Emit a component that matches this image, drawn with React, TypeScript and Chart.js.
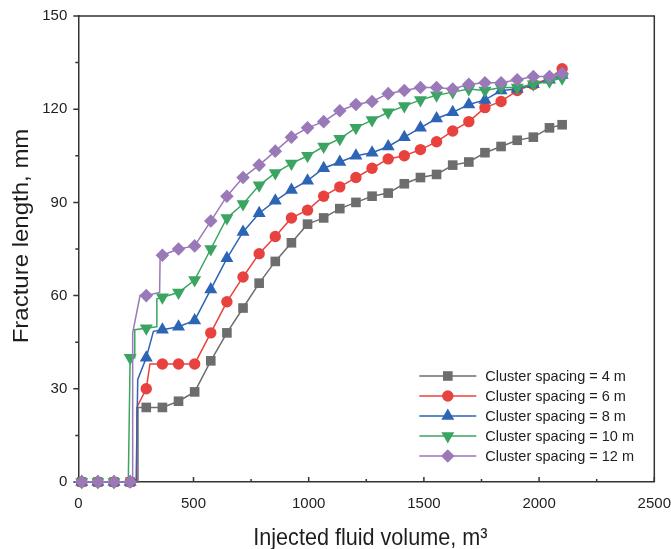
import React, { useEffect, useRef } from 'react';
import { Chart, registerables } from 'chart.js';
import { drawPoint } from 'chart.js/helpers';

Chart.register(...registerables);

// Injected fluid volume (m³) at each plotted marker
const volume = [15, 85, 155, 225, 295, 365, 435, 505, 575, 645, 715, 785, 855, 925, 995, 1065, 1135, 1205, 1275, 1345, 1415, 1485, 1555, 1625, 1695, 1765, 1835, 1905, 1975, 2045, 2100];

// Fracture length (mm) per cluster spacing
const spacing4 = [0, 0, 0, 0, 24, 24, 26, 29, 39, 48, 56, 64, 71, 77, 83, 85, 88, 90, 92, 93, 96, 98, 99, 102, 103, 106, 108, 110, 111, 114, 115];
const spacing6 = [0, 0, 0, 0, 30, 38, 38, 38, 48, 58, 66, 73.5, 79, 85, 87.5, 92, 95, 98, 101, 104, 105, 107, 109.5, 113, 116, 120.5, 122.5, 126, 128, 130, 133];
const spacing8 = [0, 0, 0, 0, 40, 49, 50, 52, 62, 72, 80.5, 86.5, 90.5, 94, 97, 101, 103, 105, 106, 108, 111, 114, 117, 119, 121.5, 123, 126, 126.5, 128, 129.5, 131];
const spacing10 = [0, 0, 0, 40, 49.5, 59.5, 61, 65, 75, 85, 89.5, 95.5, 99.5, 102.5, 105, 108, 110.5, 114, 116.5, 119, 121, 123, 124.5, 125.5, 126.5, 126, 127, 127, 128, 129, 130];
const spacing12 = [0, 0, 0, 0, 60, 73, 75, 76, 84, 92, 98, 102, 106.5, 111, 114, 116, 119.5, 121.5, 122.5, 125, 126, 127, 127, 126.5, 128, 128.5, 128.5, 129.5, 130.5, 130.5, 131.5];

// Line-only vertices (no marker) at the sharp rises: [volume, length]
const rise4 = [[257, 0], [259, 24]];
const rise6 = [[252, 0], [254, 24], [311, 38]];
const rise8 = [[251, 0], [258, 33], [326, 48.5]];
const rise10 = [[217, 0], [243, 40], [245, 49], [339, 50], [341, 59]];
const rise12 = [[234, 0], [236, 48], [268, 60], [353, 61], [355, 72]];

const seriesLabels = ['Cluster spacing = 4 m', 'Cluster spacing = 6 m', 'Cluster spacing = 8 m', 'Cluster spacing = 10 m', 'Cluster spacing = 12 m'];
const seriesValues = [spacing4, spacing6, spacing8, spacing10, spacing12];
const seriesRises = [rise4, rise6, rise8, rise10, rise12];
const seriesColors = ['#6d6d6d', '#e8423f', '#2c65b5', '#3aa560', '#9a79b9'];
const seriesStyles = ['rect', 'circle', 'triangle', 'triangle', 'rectRot'];
const seriesRotations = [0, 0, 0, 180, 0];
const seriesRadius = [6.8, 5.7, 7.5, 7.5, 6.8];

const xTitle = 'Injected fluid volume, m³';
const yTitle = 'Fracture length, mm';

const FONT = "'Liberation Sans', Arial, sans-serif";
const AXIS = '#333333';
const TEXT = '#1e1e1e';

function buildData(values: number[], rises: number[][]) {
  const pts: { x: number; y: number; m: boolean }[] = volume.map((x, i) => ({ x, y: values[i], m: true }));
  rises.forEach(([x, y]) => pts.push({ x, y, m: false }));
  pts.sort((a, b) => a.x - b.x);
  return pts;
}

const framePlugin = {
  id: 'frameTicks',
  beforeDatasetsDraw(chart: any) {
    const { ctx, chartArea } = chart;
    const { left, right, top, bottom } = chartArea;
    const xs = chart.scales.x;
    const ys = chart.scales.y;
    ctx.save();
    ctx.strokeStyle = AXIS;
    ctx.lineWidth = 1.5;
    ctx.beginPath();
    ctx.moveTo(left, top);
    ctx.lineTo(right, top);
    ctx.lineTo(right, bottom);
    ctx.stroke();
    const xv = xs.ticks.map((t: any) => t.value);
    const yv = ys.ticks.map((t: any) => t.value);
    ctx.beginPath();
    xv.forEach((v: number, i: number) => {
      const px = xs.getPixelForValue(v);
      ctx.moveTo(px, bottom);
      ctx.lineTo(px, bottom - 5);
      if (i < xv.length - 1) {
        const pm = xs.getPixelForValue((v + xv[i + 1]) / 2);
        ctx.moveTo(pm, bottom);
        ctx.lineTo(pm, bottom - 3);
      }
    });
    yv.forEach((v: number, i: number) => {
      const py = ys.getPixelForValue(v);
      ctx.moveTo(left, py);
      ctx.lineTo(left - 5, py);
      if (i < yv.length - 1) {
        const pm = ys.getPixelForValue((v + yv[i + 1]) / 2);
        ctx.moveTo(left, pm);
        ctx.lineTo(left - 3, pm);
      }
    });
    ctx.stroke();

    // axis titles (slightly condensed, as in the reference)
    ctx.fillStyle = TEXT;
    ctx.font = `24px ${FONT}`;
    ctx.textAlign = 'center';
    ctx.textBaseline = 'middle';
    ctx.save();
    ctx.translate((left + right) / 2 + 4, 538);
    ctx.scale(0.9, 1);
    ctx.fillText(xTitle, 0, 0);
    ctx.restore();
    ctx.save();
    ctx.translate(22, (top + bottom) / 2 - 13);
    ctx.scale(0.9, 1);
    ctx.rotate(-Math.PI / 2);
    ctx.fillText(yTitle, 0, 0);
    ctx.restore();
    ctx.restore();
  },
  afterDatasetsDraw(chart: any) {
    const { ctx, chartArea } = chart;
    const { right, bottom } = chartArea;
    const x0 = right - 235;
    const x1 = right - 178;
    const xm = (x0 + x1) / 2;
    const xt = right - 169;
    ctx.save();
    ctx.font = `14.5px ${FONT}`;
    ctx.textBaseline = 'middle';
    ctx.textAlign = 'left';
    chart.data.datasets.forEach((ds: any, i: number) => {
      const y = bottom - 106 + i * 20;
      ctx.strokeStyle = ds.borderColor;
      ctx.lineWidth = 1.5;
      ctx.beginPath();
      ctx.moveTo(x0, y);
      ctx.lineTo(x1, y);
      ctx.stroke();
      ctx.fillStyle = ds.borderColor;
      drawPoint(ctx, { pointStyle: ds.pointStyle, rotation: ds.pointRotation, radius: ds.legendRadius, borderWidth: 0 } as any, xm, y);
      ctx.fillStyle = TEXT;
      ctx.fillText(ds.label, xt, y + 0.5);
    });
    ctx.restore();
  },
};

export default function App() {
  const ref = useRef<HTMLCanvasElement>(null);
  useEffect(() => {
    const datasets = seriesLabels.map((label, i) => ({
      label,
      data: buildData(seriesValues[i], seriesRises[i]),
      borderColor: seriesColors[i],
      backgroundColor: seriesColors[i],
      borderWidth: 1.5,
      tension: 0,
      pointStyle: seriesStyles[i],
      pointRotation: seriesRotations[i],
      pointBorderWidth: 0,
      legendRadius: seriesRadius[i],
      pointRadius: (c: any) => (c.raw && c.raw.m ? seriesRadius[i] : 0),
      pointHoverRadius: 0,
      clip: false,
      order: seriesLabels.length - i,
    }));
    const chart = new Chart(ref.current as HTMLCanvasElement, {
      type: 'line',
      data: { datasets } as any,
      plugins: [framePlugin],
      options: {
        animation: false,
        responsive: false,
        devicePixelRatio: 1,
        events: [],
        layout: { padding: { left: 0, right: 16.7, top: 16, bottom: 0 } },
        plugins: { legend: { display: false }, tooltip: { enabled: false } },
        scales: {
          x: {
            type: 'linear',
            min: 0,
            max: 2500,
            ticks: { stepSize: 500, color: TEXT, font: { family: FONT, size: 15 }, padding: 13, maxRotation: 0, callback: (v: any) => String(v) },
            grid: { display: false, drawTicks: false },
            border: { display: true, color: AXIS, width: 1.5 },
            afterFit: (s: any) => {
              s.height = 549 - 482;
              s.paddingLeft = 0;
              s.paddingRight = 0;
            },
          },
          y: {
            type: 'linear',
            min: 0,
            max: 150,
            ticks: { stepSize: 30, color: TEXT, font: { family: FONT, size: 15 }, padding: 11, callback: (v: any) => String(v) },
            grid: { display: false, drawTicks: false },
            border: { display: true, color: AXIS, width: 1.5 },
            afterFit: (s: any) => {
              s.width = 78.3;
              s.paddingTop = 0;
              s.paddingBottom = 0;
            },
          },
        },
      } as any,
    });
    return () => chart.destroy();
  }, []);
  return (
    <div style={{ position: 'fixed', left: 0, top: 0, width: 671, height: 549, background: '#fff' }}>
      <canvas ref={ref} width={671} height={549} style={{ display: 'block' }} />
    </div>
  );
}
